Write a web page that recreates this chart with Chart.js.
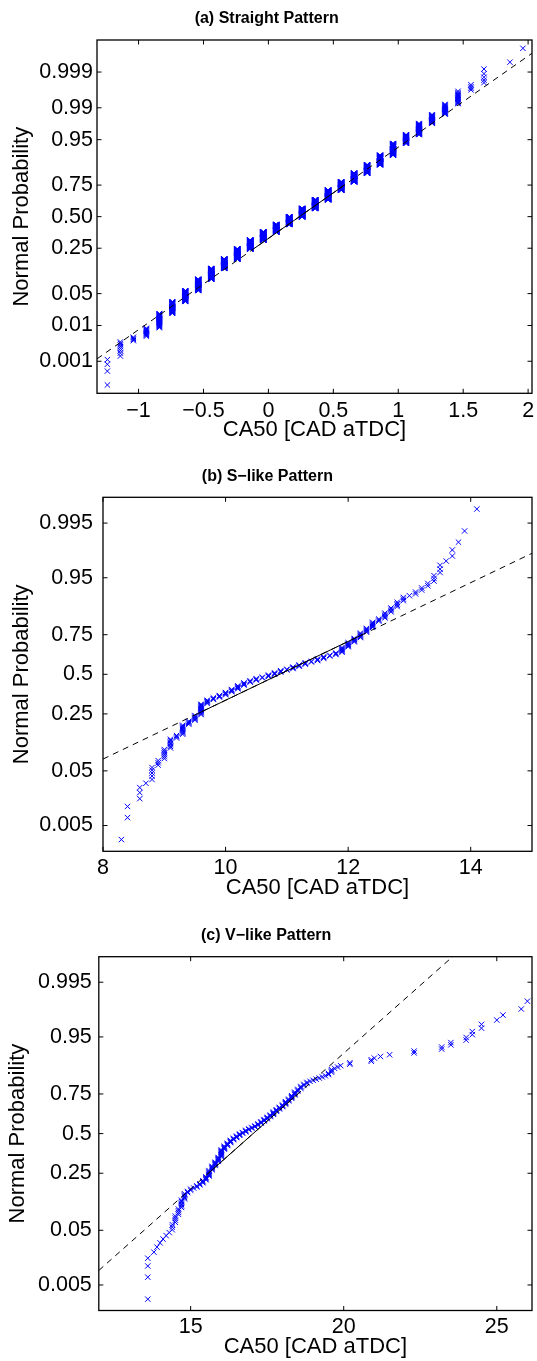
<!DOCTYPE html>
<html>
<head>
<meta charset="utf-8">
<script src="https://cdn.jsdelivr.net/npm/chart.js@4.4.1/dist/chart.umd.min.js"></script>
<style>
  html, body { margin: 0; padding: 0; background: #fff; }
  body { width: 537px; height: 1361px; position: relative; overflow: hidden; }
  canvas { position: absolute; left: 0; }
</style>
</head>
<body>
<canvas id="panelA" width="537" height="460" style="top:0"></canvas>
<canvas id="panelB" width="537" height="460" style="top:460px"></canvas>
<canvas id="panelC" width="537" height="441" style="top:920px"></canvas>
<script>
// (a) straight pattern: CA50 value of each bin and number of cycles in it
const caA = [-1.24, -1.14, -1.04, -0.94, -0.84, -0.74, -0.64, -0.54, -0.44, -0.34, -0.24, -0.14, -0.04, 0.06, 0.16,
  0.26, 0.36, 0.46, 0.56, 0.66, 0.76, 0.86, 0.96, 1.06, 1.16, 1.26, 1.36, 1.46, 1.56, 1.66, 1.86, 1.96];
const cntA = [4, 8, 4, 11, 33, 48, 69, 105, 135, 150, 195, 196, 200, 190, 205,
  218, 224, 226, 180, 160, 133, 122, 111, 59, 52, 27, 20, 14, 4, 5, 1, 1];

// (b) S-like pattern
const caB = [8.3, 8.4, 8.6, 8.7, 8.8, 8.9, 9.0, 9.1, 9.2, 9.3, 9.4, 9.5, 9.6, 9.7, 9.8, 9.9,
  10.0, 10.1, 10.2, 10.3, 10.4, 10.5, 10.6, 10.7, 10.8, 10.9, 11.0, 11.1, 11.2, 11.3, 11.4, 11.5, 11.6, 11.7, 11.8, 11.9,
  12.0, 12.1, 12.2, 12.3, 12.4, 12.5, 12.6, 12.7, 12.8, 12.9, 13.0, 13.1, 13.2, 13.3, 13.4, 13.5, 13.6, 13.7, 13.8, 13.9, 14.1];
const cntB = [1, 2, 3, 1, 5, 3, 6, 7, 3, 9, 4, 6, 13, 5, 3, 3,
  4, 4, 5, 4, 3, 3, 2, 3, 3, 3, 2, 3, 3, 3, 2, 3, 3, 2, 3, 7,
  6, 5, 6, 5, 6, 3, 5, 4, 4, 3, 1, 2, 2, 2, 3, 3, 1, 2, 1, 1, 1];

// (c) V-like pattern (last two cycles lie beyond the x-limit)
const caC = [13.6, 13.8, 13.9,
  14.0, 14.1, 14.2, 14.3, 14.4, 14.5, 14.6, 14.7, 14.8, 14.9,
  15.0, 15.1, 15.2, 15.3, 15.4, 15.5, 15.6, 15.7, 15.8, 15.9,
  16.0, 16.1, 16.2, 16.3, 16.4, 16.5, 16.6, 16.7, 16.8, 16.9,
  17.0, 17.1, 17.2, 17.3, 17.4, 17.5, 17.6, 17.7, 17.8, 17.9,
  18.0, 18.1, 18.2, 18.3, 18.4, 18.5, 18.6, 18.7, 18.8, 18.9,
  19.0, 19.1, 19.2, 19.3, 19.4, 19.5, 19.6, 19.7, 19.8, 19.9,
  20.2, 20.9, 21.0, 21.2, 21.5, 22.3, 23.2, 23.5, 24.0, 24.2, 24.5, 25.0, 25.2, 25.8, 26.0, 26.6, 27.4];
const cntC = [4, 1, 1,
  1, 1, 1, 1, 3, 4, 4, 6, 5, 2,
  2, 1, 2, 2, 3, 4, 7, 5, 5, 6,
  10, 5, 4, 4, 3, 3, 3, 2, 3, 2,
  2, 2, 3, 3, 3, 3, 3, 4, 3, 3,
  3, 4, 3, 4, 4, 3, 3, 2, 2, 1,
  1, 1, 1, 1, 1, 2, 3, 1, 1, 1,
  2, 2, 1, 1, 1, 2, 2, 2, 2, 2, 2, 1, 1, 1, 1, 1, 1];

// sample quartiles the reference line goes through
const quartA = [-0.107, 0.585];
const quartB = [9.536, 12.23];
const quartC = [15.58, 18.50];

// axis ranges and ticks
const xLimA = [-1.32, 2.03];
const xLimB = [8, 15];
const xLimC = [12, 26.15];
const xTicksA = [-1, -0.5, 0, 0.5, 1, 1.5, 2];
const xTicksB = [8, 10, 12, 14];
const xTicksC = [15, 20, 25];
const zLimA = 3.775;
const zLimB = 3.015;
const zLimC = 3.01;
const probA = [0.001, 0.01, 0.05, 0.25, 0.50, 0.75, 0.95, 0.99, 0.999];
const probLabA = ['0.001', '0.01', '0.05', '0.25', '0.50', '0.75', '0.95', '0.99', '0.999'];
const probBC = [0.005, 0.05, 0.25, 0.5, 0.75, 0.95, 0.995];
const probLabBC = ['0.005', '0.05', '0.25', '0.5', '0.75', '0.95', '0.995'];

const FONT = "'Liberation Sans', Arial, Helvetica, sans-serif";
const TICK = 4.5;

// inverse normal cdf (Acklam)
function normInv(p) {
  const a = [-39.69683028665376, 220.9460984245205, -275.9285104469687, 138.3577518672690, -30.66479806614716, 2.506628277459239];
  const b = [-54.47609879822406, 161.5858368580409, -155.6989798598866, 66.80131188771972, -13.28068155288572];
  const c = [-0.007784894002430293, -0.3223964580411365, -2.400758277161838, -2.549732539343734, 4.374664141464968, 2.938163982698783];
  const d = [0.007784695709041462, 0.3224671290700398, 2.445134137142996, 3.754408661907416];
  const tail = q => (((((c[0] * q + c[1]) * q + c[2]) * q + c[3]) * q + c[4]) * q + c[5]) /
    ((((d[0] * q + d[1]) * q + d[2]) * q + d[3]) * q + 1);
  if (p < 0.02425) return tail(Math.sqrt(-2 * Math.log(p)));
  if (p > 1 - 0.02425) return -tail(Math.sqrt(-2 * Math.log(1 - p)));
  const q = p - 0.5, r = q * q;
  return (((((a[0] * r + a[1]) * r + a[2]) * r + a[3]) * r + a[4]) * r + a[5]) * q /
    (((((b[0] * r + b[1]) * r + b[2]) * r + b[3]) * r + b[4]) * r + 1);
}

const fmtX = v => (v < 0 ? '\u2212' + Math.abs(v) : String(v));

// box with inward ticks on all four sides, like the matlab axes
const framePlugin = {
  id: 'frame',
  afterDraw(chart) {
    const { ctx, chartArea: a, scales: { x, y } } = chart;
    ctx.save();
    ctx.strokeStyle = '#000';
    ctx.lineWidth = 1;
    ctx.beginPath();
    x.ticks.forEach(t => {
      const px = x.getPixelForValue(t.value);
      ctx.moveTo(px, a.bottom); ctx.lineTo(px, a.bottom - TICK);
      ctx.moveTo(px, a.top); ctx.lineTo(px, a.top + TICK);
    });
    y.ticks.forEach(t => {
      const py = y.getPixelForValue(t.value);
      ctx.moveTo(a.left, py); ctx.lineTo(a.left + TICK, py);
      ctx.moveTo(a.right, py); ctx.lineTo(a.right - TICK, py);
    });
    ctx.stroke();
    ctx.lineWidth = 1.3;
    ctx.strokeRect(a.left, a.top, a.right - a.left, a.bottom - a.top);
    ctx.restore();
  },
};

function drawPanel(id, o) {
  const n = o.counts.reduce((s, v) => s + v, 0);
  const pts = [];
  let rank = 0;
  o.ca.forEach((v, k) => {
    for (let j = 0; j < o.counts[k]; j++) {
      rank++;
      pts.push({ x: v, y: normInv((rank - 0.5) / n) });
    }
  });

  const [q1, q3] = o.quart;
  const z1 = normInv(0.25), z3 = normInv(0.75);
  const zAt = x => z1 + (x - q1) * (z3 - z1) / (q3 - q1);

  return new Chart(document.getElementById(id), {
    type: 'scatter',
    data: {
      datasets: [
        {
          data: [{ x: q1, y: z1 }, { x: q3, y: z3 }],
          showLine: true, borderColor: '#000', borderWidth: 1, pointRadius: 0,
        },
        {
          data: [{ x: o.xlim[0], y: zAt(o.xlim[0]) }, { x: o.xlim[1], y: zAt(o.xlim[1]) }],
          showLine: true, borderColor: '#000', borderWidth: 1, borderDash: [6, 5], pointRadius: 0,
        },
        {
          data: pts,
          pointStyle: 'crossRot', pointRadius: 3.8, pointBorderWidth: 1,
          borderColor: '#0000ff', backgroundColor: '#0000ff',
        },
      ],
    },
    options: {
      responsive: false,
      animation: false,
      devicePixelRatio: 1,
      events: [],
      layout: { padding: { left: 0, top: 0, right: 537 - o.right, bottom: o.padBottom } },
      plugins: {
        legend: { display: false },
        tooltip: { enabled: false },
        title: {
          display: true, text: o.title, color: '#000',
          font: { family: FONT, size: 16, weight: 'bold' },
          padding: { top: o.titleTop, bottom: o.titleBottom },
        },
      },
      scales: {
        x: {
          type: 'linear', min: o.xlim[0], max: o.xlim[1],
          grid: { display: false, drawTicks: false }, border: { display: false },
          afterBuildTicks: s => { s.ticks = o.xTicks.map(v => ({ value: v })); },
          ticks: {
            color: '#000', font: { family: FONT, size: 21.5 }, padding: o.xPad,
            maxRotation: 0, autoSkip: false, callback: v => fmtX(v),
          },
          title: { display: true, text: 'CA50 [CAD aTDC]', color: '#000', font: { family: FONT, size: 22 }, padding: 0 },
          afterFit: s => { s.height = o.xAxisH; s.paddingLeft = 0; s.paddingRight = 0; },
        },
        y: {
          type: 'linear', min: -o.zlim, max: o.zlim,
          grid: { display: false, drawTicks: false }, border: { display: false },
          afterBuildTicks: s => { s.ticks = o.prob.map(p => ({ value: normInv(p) })); },
          ticks: {
            color: '#000', font: { family: FONT, size: 21.5 }, padding: o.yPad,
            autoSkip: false, callback: (v, i) => o.probLab[i],
          },
          title: {
            display: true, text: 'Normal Probability', color: '#000',
            font: { family: FONT, size: 22 }, padding: { top: o.yTitleTop, bottom: 0 },
          },
          afterFit: s => { s.width = o.left; s.paddingTop = 0; s.paddingBottom = 0; },
        },
      },
    },
    plugins: [framePlugin],
  });
}

drawPanel('panelA', {
  title: '(a) Straight Pattern', ca: caA, counts: cntA, quart: quartA,
  xlim: xLimA, xTicks: xTicksA, zlim: zLimA, prob: probA, probLab: probLabA,
  left: 97, right: 533.3, titleTop: 8.7, titleBottom: 12.1, padBottom: 16.5,
  xAxisH: 50.2, xPad: 4.8, yPad: 4, yTitleTop: 8.4,
});

drawPanel('panelB', {
  title: '(b) S\u2212like Pattern', ca: caB, counts: cntB, quart: quartB,
  xlim: xLimB, xTicks: xTicksB, zlim: zLimB, prob: probBC, probLab: probLabBC,
  left: 103, right: 534.8, titleTop: 6.9, titleBottom: 11.2, padBottom: 18.5,
  xAxisH: 50.2, xPad: 4.1, yPad: 10, yTitleTop: 8.4,
});

drawPanel('panelC', {
  title: '(c) V\u2212like Pattern', ca: caC, counts: cntC, quart: quartC,
  xlim: xLimC, xTicks: xTicksC, zlim: zLimC, prob: probBC, probLab: probLabBC,
  left: 98.8, right: 532.3, titleTop: 6.4, titleBottom: 11.1, padBottom: 1.3,
  xAxisH: 49.2, xPad: 4.1, yPad: 7, yTitleTop: 4.8,
});
</script>
</body>
</html>
